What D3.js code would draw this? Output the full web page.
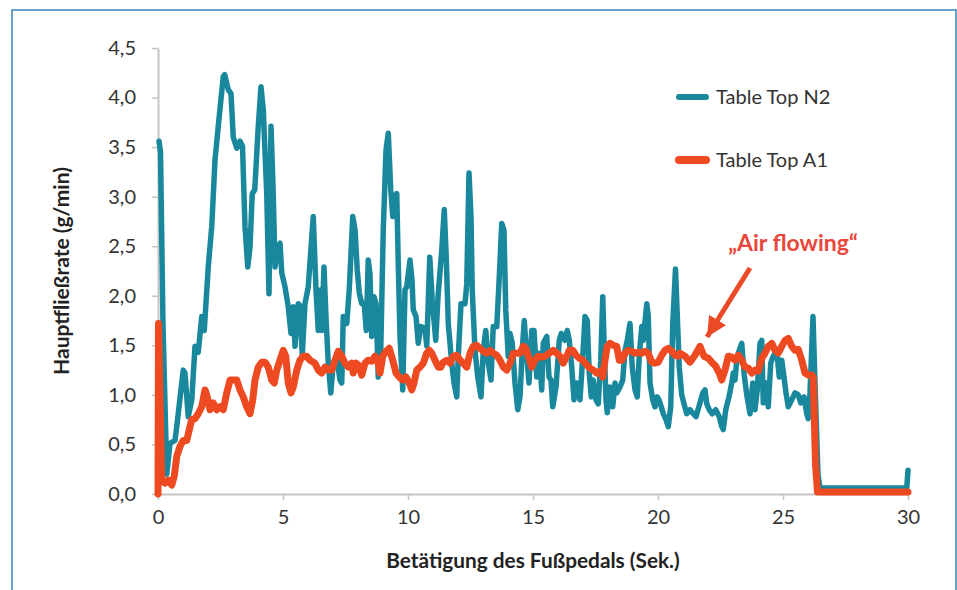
<!DOCTYPE html>
<html>
<head>
<meta charset="utf-8">
<script src="https://cdn.jsdelivr.net/npm/d3@7"></script>
<style>
  body { margin: 0; background: #fff; }
  svg text { font-family: "Source Sans Pro", Lato, "Noto Sans", sans-serif; }
</style>
</head>
<body>
<div id="chart"></div>
<script>
// series: [seconds, g/min]
var tableTopN2 = [[0.04,3.56],[0.1,3.45],[0.2,1.7],[0.35,0.2],[0.48,0.51],[0.68,0.54],[0.75,0.68],[1.01,1.25],[1.08,1.22],[1.21,0.78],[1.35,0.95],[1.48,1.49],[1.61,1.43],[1.75,1.79],[1.85,1.65],[2.01,2.29],[2.15,2.7],[2.28,3.37],[2.41,3.71],[2.61,4.21],[2.67,4.23],[2.81,4.08],[2.92,4.04],[3.01,3.6],[3.15,3.49],[3.28,3.56],[3.38,3.51],[3.48,2.7],[3.59,2.29],[3.68,2.49],[3.77,3.03],[3.87,3.07],[4.01,3.71],[4.12,4.11],[4.21,3.88],[4.35,3.03],[4.44,2.02],[4.52,3.71],[4.61,3.03],[4.68,2.29],[4.79,2.49],[4.88,2.53],[4.95,2.23],[5.08,2.09],[5.21,1.89],[5.32,1.62],[5.41,1.89],[5.48,1.49],[5.61,1.92],[5.68,1.9],[5.77,1.4],[5.88,1.92],[6.01,2.09],[6.21,2.8],[6.32,2.06],[6.41,1.65],[6.51,2.06],[6.55,1.65],[6.64,2.29],[6.72,1.78],[6.81,1.32],[6.91,1.02],[7.01,1.32],[7.15,1.38],[7.28,1.15],[7.35,1.12],[7.41,1.79],[7.55,1.72],[7.65,2.06],[7.79,2.8],[7.88,2.67],[7.97,2.26],[8.05,2.03],[8.15,1.92],[8.25,1.92],[8.33,1.65],[8.41,2.36],[8.48,2.22],[8.55,1.59],[8.64,1.99],[8.72,1.92],[8.81,1.18],[8.91,1.45],[9.01,2.66],[9.12,3.47],[9.21,3.64],[9.31,3.07],[9.39,2.8],[9.48,3.0],[9.55,3.03],[9.61,2.33],[9.68,1.59],[9.79,1.05],[9.88,2.06],[9.95,2.09],[10.08,2.36],[10.16,2.16],[10.21,1.86],[10.32,1.79],[10.41,1.52],[10.51,1.69],[10.68,1.67],[10.75,1.49],[10.87,2.39],[10.97,1.95],[11.11,1.55],[11.2,1.99],[11.35,2.46],[11.45,2.87],[11.53,2.39],[11.61,1.72],[11.75,1.32],[11.84,1.12],[11.95,0.98],[12.01,1.39],[12.12,1.92],[12.28,1.92],[12.35,2.12],[12.44,3.24],[12.52,2.8],[12.57,2.06],[12.68,1.45],[12.79,1.18],[12.92,0.98],[13.01,1.45],[13.11,1.65],[13.21,1.32],[13.32,1.15],[13.41,1.69],[13.55,1.69],[13.64,2.13],[13.75,2.73],[13.84,2.66],[13.91,1.86],[14.01,1.39],[14.08,1.62],[14.17,1.52],[14.28,1.12],[14.39,0.85],[14.48,0.98],[14.57,1.45],[14.65,1.75],[14.73,1.45],[14.84,1.12],[14.95,1.65],[15.04,1.65],[15.15,1.18],[15.24,1.42],[15.35,1.05],[15.41,1.52],[15.55,1.59],[15.64,1.18],[15.72,1.15],[15.79,0.88],[15.92,1.08],[16.05,1.55],[16.13,1.62],[16.27,1.55],[16.37,1.65],[16.45,1.55],[16.55,1.28],[16.64,0.95],[16.75,1.12],[16.81,1.08],[16.88,0.95],[16.99,1.39],[17.08,1.79],[17.17,1.75],[17.25,1.22],[17.33,0.98],[17.41,1.15],[17.52,0.95],[17.61,0.91],[17.71,1.35],[17.79,1.99],[17.84,1.55],[17.92,0.95],[17.97,0.82],[18.08,1.08],[18.19,0.88],[18.28,1.12],[18.35,1.02],[18.48,1.08],[18.59,1.15],[18.68,1.45],[18.77,1.55],[18.88,1.72],[18.97,1.28],[19.08,1.05],[19.17,0.98],[19.25,1.39],[19.35,1.69],[19.41,1.55],[19.55,1.92],[19.61,1.8],[19.68,1.12],[19.79,0.95],[19.88,0.88],[19.97,0.98],[20.04,0.95],[20.13,0.88],[20.21,0.81],[20.32,0.75],[20.41,0.68],[20.51,0.88],[20.59,1.72],[20.7,2.27],[20.85,1.28],[20.95,1.0],[21.05,0.9],[21.15,0.81],[21.28,0.85],[21.41,0.81],[21.52,0.78],[21.68,0.92],[21.79,1.02],[21.88,1.05],[21.95,0.91],[22.05,0.85],[22.17,0.81],[22.31,0.85],[22.45,0.78],[22.55,0.68],[22.61,0.65],[22.71,0.85],[22.84,0.98],[22.95,1.12],[23.01,1.22],[23.08,1.15],[23.15,1.35],[23.21,1.42],[23.35,1.52],[23.45,1.2],[23.55,1.0],[23.68,0.81],[23.79,1.12],[23.88,0.85],[23.97,1.05],[24.08,1.52],[24.15,1.55],[24.21,0.92],[24.32,1.12],[24.41,0.88],[24.51,1.32],[24.61,1.39],[24.75,1.45],[24.85,1.18],[24.95,1.35],[25.04,1.18],[25.12,1.02],[25.21,0.88],[25.35,0.95],[25.48,1.02],[25.61,1.0],[25.71,0.92],[25.84,0.98],[25.95,0.81],[26.01,0.76],[26.08,1.02],[26.2,1.79],[26.27,1.2],[26.4,0.2],[26.48,0.06],[29.95,0.06],[30,0.24]];

var tableTopA1 = [[0,0],[0.02,1.72],[0.15,0.14],[0.28,0.11],[0.41,0.14],[0.55,0.09],[0.65,0.18],[0.75,0.38],[0.88,0.48],[1.01,0.54],[1.15,0.54],[1.28,0.68],[1.35,0.75],[1.48,0.76],[1.61,0.81],[1.75,0.88],[1.88,1.05],[1.97,0.98],[2.08,0.85],[2.21,0.92],[2.35,0.85],[2.48,0.88],[2.61,0.85],[2.75,1.02],[2.88,1.15],[3.01,1.15],[3.15,1.15],[3.28,1.05],[3.41,0.98],[3.55,0.88],[3.68,0.81],[3.79,0.95],[3.88,1.15],[4.01,1.28],[4.15,1.33],[4.28,1.33],[4.41,1.28],[4.55,1.15],[4.65,1.12],[4.75,1.25],[4.88,1.35],[5.01,1.45],[5.11,1.39],[5.21,1.12],[5.32,1.02],[5.41,1.08],[5.55,1.25],[5.68,1.35],[5.81,1.39],[5.95,1.39],[6.08,1.35],[6.28,1.32],[6.41,1.25],[6.55,1.22],[6.68,1.28],[6.81,1.25],[6.95,1.25],[7.08,1.35],[7.21,1.44],[7.35,1.39],[7.48,1.32],[7.61,1.28],[7.75,1.32],[7.81,1.22],[7.92,1.32],[8.02,1.3],[8.15,1.2],[8.28,1.32],[8.41,1.35],[8.55,1.34],[8.68,1.39],[8.81,1.32],[8.88,1.22],[8.99,1.39],[9.12,1.44],[9.25,1.47],[9.39,1.35],[9.52,1.22],[9.65,1.18],[9.79,1.15],[9.92,1.18],[10.05,1.12],[10.15,1.05],[10.24,1.12],[10.35,1.25],[10.48,1.28],[10.61,1.32],[10.75,1.42],[10.85,1.45],[10.95,1.42],[11.08,1.35],[11.21,1.28],[11.31,1.28],[11.41,1.33],[11.55,1.35],[11.68,1.32],[11.81,1.39],[11.95,1.4],[12.08,1.35],[12.21,1.32],[12.35,1.28],[12.48,1.42],[12.61,1.49],[12.75,1.5],[12.88,1.47],[13.01,1.44],[13.15,1.42],[13.28,1.45],[13.41,1.42],[13.55,1.4],[13.68,1.35],[13.81,1.28],[13.95,1.25],[14.08,1.32],[14.21,1.42],[14.35,1.42],[14.48,1.42],[14.61,1.49],[14.71,1.47],[14.81,1.39],[14.95,1.28],[15.08,1.35],[15.21,1.39],[15.35,1.38],[15.48,1.39],[15.64,1.42],[15.81,1.45],[15.95,1.42],[16.08,1.39],[16.21,1.32],[16.35,1.39],[16.45,1.45],[16.59,1.45],[16.72,1.4],[16.85,1.37],[16.99,1.35],[17.15,1.3],[17.28,1.27],[17.41,1.25],[17.55,1.22],[17.68,1.24],[17.79,1.18],[17.88,1.35],[17.97,1.49],[18.08,1.52],[18.21,1.5],[18.35,1.49],[18.45,1.35],[18.55,1.35],[18.68,1.42],[18.81,1.45],[18.95,1.44],[19.08,1.42],[19.21,1.43],[19.35,1.42],[19.48,1.44],[19.61,1.42],[19.75,1.33],[19.88,1.32],[20.01,1.33],[20.15,1.4],[20.28,1.45],[20.41,1.47],[20.55,1.44],[20.68,1.4],[20.81,1.39],[20.88,1.42],[21.08,1.39],[21.28,1.33],[21.48,1.4],[21.68,1.49],[21.84,1.39],[22.01,1.37],[22.15,1.33],[22.31,1.29],[22.45,1.22],[22.55,1.15],[22.68,1.25],[22.81,1.39],[22.95,1.38],[23.08,1.35],[23.21,1.4],[23.35,1.35],[23.48,1.28],[23.61,1.27],[23.75,1.22],[23.88,1.25],[24.01,1.24],[24.15,1.37],[24.28,1.42],[24.41,1.49],[24.55,1.52],[24.68,1.45],[24.81,1.42],[24.95,1.49],[25.08,1.55],[25.21,1.57],[25.35,1.49],[25.48,1.45],[25.61,1.46],[25.75,1.35],[25.88,1.22],[26.01,1.2],[26.15,1.2],[26.21,1.18],[26.3,0.3],[26.38,0.02],[30,0.02]];

var xTicks = [0, 5, 10, 15, 20, 25, 30];
var yTicks = [0, 0.5, 1, 1.5, 2, 2.5, 3, 3.5, 4, 4.5];
var seriesNames = ["Table Top N2", "Table Top A1"];
var seriesColors = ["#1a889c", "#ee4a22"];

var width = 957, height = 590;
// plot box (top is reserved on window, so plotTop)
var plotLeft = 158, plotRight = 908, plotTop = 48, plotBottom = 494;

var svg = d3.select("#chart").append("svg").attr("width", width).attr("height", height);

// blue frame round the whole figure
svg.append("rect").attr("x", 12).attr("y", 10).attr("width", 944).attr("height", 600)
    .attr("fill", "none").attr("stroke", "#3483b8").attr("stroke-width", 1.5);

var x = d3.scaleLinear().domain([0, 30]).range([plotLeft, plotRight]);
var y = d3.scaleLinear().domain([0, 4.5]).range([plotBottom, plotTop]);
var fmt = function (d) { return d3.format(".1f")(d).replace(".", ","); };

var xAxis = svg.append("g").attr("transform", "translate(0," + plotBottom + ")")
    .call(d3.axisBottom(x).tickValues(xTicks).tickSize(6).tickSizeOuter(0).tickPadding(10));
var yAxis = svg.append("g").attr("transform", "translate(" + plotLeft + ",0)")
    .call(d3.axisLeft(y).tickValues(yTicks).tickFormat(fmt).tickSize(6).tickSizeOuter(0).tickPadding(16));

[xAxis, yAxis].forEach(function (a) {
    a.select(".domain").attr("stroke", "#c4c4c4").attr("stroke-width", 2);
    a.selectAll(".tick line").attr("stroke", "#c4c4c4").attr("stroke-width", 1.5);
    a.selectAll(".tick text").attr("fill", "#333").style("font-size", "20px");
});

// axis titles
svg.append("text").attr("x", (plotLeft + plotRight) / 2).attr("y", 568)
    .attr("text-anchor", "middle").attr("fill", "#222")
    .style("font-size", "20.8px").style("font-weight", "bold")
    .text("Betätigung des Fußpedals (Sek.)");
svg.append("text").attr("transform", "translate(69," + ((plotTop + plotBottom) / 2) + ") rotate(-90)")
    .attr("text-anchor", "middle").attr("fill", "#222")
    .style("font-size", "21px").style("font-weight", "bold")
    .text("Hauptfließrate (g/min)");

var line = d3.line().x(function (d) { return x(d[0]); }).y(function (d) { return y(d[1]); });

svg.append("path").datum(tableTopN2).attr("d", line)
    .attr("fill", "none").attr("stroke", seriesColors[0]).attr("stroke-width", 5.5)
    .attr("stroke-linejoin", "round").attr("stroke-linecap", "round");
svg.append("path").datum(tableTopA1).attr("d", line)
    .attr("fill", "none").attr("stroke", seriesColors[1]).attr("stroke-width", 7)
    .attr("stroke-linejoin", "round").attr("stroke-linecap", "round");

// legend
var legend = svg.append("g").selectAll("g").data(seriesNames).enter().append("g")
    .attr("transform", function (d, i) { return "translate(679," + (97 + i * 63) + ")"; });
legend.append("line").attr("x1", 0).attr("x2", 27).attr("y1", 0).attr("y2", 0)
    .attr("stroke", function (d, i) { return seriesColors[i]; })
    .attr("stroke-width", function (d, i) { return i ? 8 : 6; })
    .attr("stroke-linecap", "round");
legend.append("text").attr("x", 37).attr("y", 0).attr("dy", ".35em")
    .attr("fill", "#333").style("font-size", "20px")
    .text(function (d) { return d; });

// annotation with arrow
svg.append("text").attr("x", 793).attr("y", 243).attr("dy", ".35em")
    .attr("text-anchor", "middle").attr("fill", "#e9463b")
    .style("font-size", "23px").style("font-weight", "bold")
    .text("\u201EAir flowing\u201C");
svg.append("defs").append("marker").attr("id", "head")
    .attr("viewBox", "0 0 10 10").attr("refX", 10).attr("refY", 5)
    .attr("markerWidth", 4).attr("markerHeight", 4).attr("orient", "auto")
    .append("path").attr("d", "M0,0L10,5L0,10z").attr("fill", "#eb4a26");
svg.append("line").attr("x1", 750).attr("y1", 268).attr("x2", 707).attr("y2", 337)
    .attr("stroke", "#eb4a26").attr("stroke-width", 5).attr("marker-end", "url(#head)");
</script>
</body>
</html>
